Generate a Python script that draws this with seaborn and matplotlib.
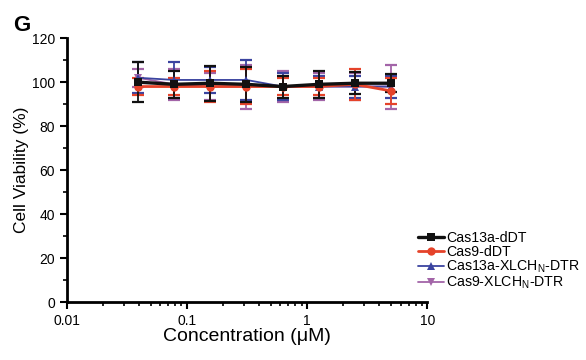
import numpy as np
import pandas as pd
import matplotlib
matplotlib.use('Agg')
import matplotlib.pyplot as plt
import seaborn as sns
from matplotlib.ticker import MultipleLocator, LogLocator, NullFormatter

conc = [0.039, 0.078, 0.156, 0.3125, 0.625, 1.25, 2.5, 5]

cas13a_ddt = [100, 99, 99.5, 99, 98, 99, 99.5, 99.5]
cas13a_ddt_sd = [9, 6, 8, 8, 5, 6, 5, 4]
cas9_ddt = [98, 98, 98, 98, 98, 98, 99, 96]
cas9_ddt_sd = [4, 4, 7, 8, 4, 4, 7, 6]
cas13a_dtr = [102, 101, 101, 101, 98, 98, 98, 98]
cas13a_dtr_sd = [7, 8, 6, 9, 6, 5, 5, 5]
cas9_dtr = [102, 99, 98, 98, 98, 98, 98, 98]
cas9_dtr_sd = [4, 7, 6, 10, 7, 6, 6, 10]

names = ['Cas13a-dDT', 'Cas9-dDT',
         'Cas13a-XLCH$_\\mathregular{N}$-DTR', 'Cas9-XLCH$_\\mathregular{N}$-DTR']
means = [cas13a_ddt, cas9_ddt, cas13a_dtr, cas9_dtr]
sds = [cas13a_ddt_sd, cas9_ddt_sd, cas13a_dtr_sd, cas9_dtr_sd]
colors = ['#111111', '#e5432a', '#3b44a0', '#a365a8']
markers = ['s', 'o', '^', 'v']
widths = [2.4, 2.0, 1.3, 1.3]

sns.set_style('ticks')
plt.rcParams['font.family'] = ['Liberation Sans', 'DejaVu Sans']
plt.rcParams['mathtext.fontset'] = 'custom'
plt.rcParams['mathtext.rm'] = 'Liberation Sans'
for k in ['text.color', 'axes.labelcolor', 'xtick.color', 'ytick.color', 'axes.edgecolor']:
    plt.rcParams[k] = 'black'

fig = plt.figure(figsize=(5.86, 3.6), dpi=100)
ax = fig.add_axes([0.114, 0.161, 0.615, 0.733])

# draw red/black last so they sit on top like the original
order = [3, 2, 1, 0]
for i in order:
    df = pd.DataFrame({'conc': conc, 'v': means[i]})
    ax.errorbar(conc, means[i], yerr=sds[i], fmt='none', ecolor=colors[i],
                elinewidth=1.3, capsize=4, capthick=1.6, zorder=2)
    sns.lineplot(data=df, x='conc', y='v', ax=ax, color=colors[i],
                 marker=markers[i], markersize=6, markeredgewidth=0,
                 linewidth=widths[i], label=names[i], zorder=3)

ax.set_xscale('log')
ax.set_xlim(0.01, 10)
ax.set_ylim(0, 120)
ax.set_xticks([0.01, 0.1, 1, 10])
ax.set_xticklabels(['0.01', '0.1', '1', '10'])
ax.xaxis.set_minor_locator(LogLocator(base=10, subs=np.arange(2, 10)))
ax.xaxis.set_minor_formatter(NullFormatter())
ax.yaxis.set_major_locator(MultipleLocator(20))
ax.yaxis.set_minor_locator(MultipleLocator(10))
ax.tick_params(axis='both', which='major', direction='out', length=5, width=1.5, labelsize=10)
ax.tick_params(axis='both', which='minor', direction='out', length=3, width=1.2)
for s in ['left', 'bottom']:
    ax.spines[s].set_linewidth(2)
sns.despine(ax=ax)

ax.set_xlabel('Concentration (\u03bcM)', fontsize=14, labelpad=0)
ax.set_ylabel('Cell Viability (%)', fontsize=12.5, labelpad=2)

h, l = ax.get_legend_handles_labels()
idx = [l.index(n) for n in names]
ax.legend([h[j] for j in idx], [l[j] for j in idx], loc='lower left',
          bbox_to_anchor=(0.96, 0.02), frameon=False, fontsize=10.2,
          handlelength=1.8, handletextpad=0.15, labelspacing=-0.02, borderaxespad=0)

fig.text(0.022, 0.915, 'G', fontsize=16, fontweight='bold')

fig.savefig('out.png', dpi=100)
